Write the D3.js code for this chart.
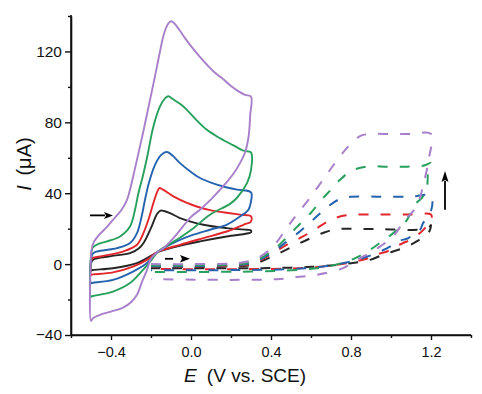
<!DOCTYPE html>
<html>
<head>
<meta charset="utf-8">
<script src="https://cdn.jsdelivr.net/npm/d3@7/dist/d3.min.js"></script>
<style>
  html, body { margin: 0; padding: 0; background: #fff; }
  svg { display: block; }
  text { font-family: "Liberation Sans", Arial, sans-serif; fill: #111; }
</style>
</head>
<body>
<svg id="chart" width="482" height="394"></svg>
<script>
// ---------- data (E in V vs. SCE, I in µA) ----------
const seriesNames = ["black", "red", "blue", "green", "purple"];
const seriesColors = ["#262626", "#e2272c", "#2563ae", "#27a05c", "#a87fca"];

// solid CVs (-0.5 .. 0.3 V), closed loops
const solidBlack = [[-0.5,0.5],[-0.49,2.5],[-0.4,4.5],[-0.305,6.2],[-0.26,9],[-0.238,11.8],[-0.197,21.2],[-0.172,27.9],[-0.155,30.1],[-0.135,30],[-0.105,28.8],[-0.055,26],[0.062,22.2],[0.178,20.3],[0.279,19.4],[0.3,19],
  [0.3,18],[0.287,17.4],[0.178,15.6],[0.045,12.8],[-0.072,9.9],[-0.165,6.8],[-0.22,3.4],[-0.27,0.6],[-0.39,-2.3],[-0.49,-3.3],[-0.5,-3.6],[-0.5,0.5]];
const solidRed = [[-0.5,2],[-0.49,3.5],[-0.455,4.3],[-0.34,7.1],[-0.27,10.9],[-0.238,17.5],[-0.213,25],[-0.188,34.5],[-0.17,40.5],[-0.158,42.9],[-0.14,42],[-0.088,38.2],[-0.02,34.5],[0.028,32.5],[0.095,30.5],[0.178,29],[0.245,27.9],[0.3,27],
  [0.3,24.1],[0.262,22.2],[0.178,18.4],[0.062,14.7],[-0.055,10.9],[-0.165,7],[-0.22,2.4],[-0.29,-1.4],[-0.39,-4.7],[-0.49,-5.8],[-0.5,-6],[-0.5,2]];
const solidBlue = [[-0.5,3],[-0.49,6],[-0.47,7.1],[-0.37,9],[-0.305,11.9],[-0.27,17.5],[-0.247,26.9],[-0.23,36.3],[-0.21,46],[-0.18,56],[-0.15,61.5],[-0.12,63.3],[-0.09,61],[-0.055,57],[0.0,52],[0.045,48.6],[0.1,46],[0.162,43.8],[0.23,42],[0.3,40.5],
  [0.3,35.4],[0.287,30.7],[0.245,26.9],[0.178,22.2],[0.095,19.4],[0.012,16.6],[-0.072,12.8],[-0.165,7],[-0.22,0.6],[-0.29,-4.2],[-0.39,-8.9],[-0.49,-10.5],[-0.5,-10.7],[-0.5,3]];
const solidGreen = [[-0.5,5],[-0.49,9.5],[-0.46,11.5],[-0.42,12.8],[-0.355,15.6],[-0.305,21.2],[-0.28,30.7],[-0.263,40],[-0.24,50],[-0.22,60],[-0.188,77.7],[-0.155,89],[-0.13,93.5],[-0.113,94.7],[-0.09,93],[-0.05,90],[-0.022,87.2],[0.03,81],[0.078,75.9],[0.13,72],[0.212,67],[0.262,64],[0.3,63],
  [0.3,53],[0.28,45.7],[0.229,37.3],[0.195,34],[0.095,27.9],[0.012,20.3],[-0.072,13.7],[-0.165,7],[-0.197,2.4],[-0.24,-3.2],[-0.305,-10.7],[-0.39,-15.5],[-0.49,-18],[-0.5,-18.3],[-0.5,5]];
const solidPurple = [[-0.5,6],[-0.488,11.9],[-0.455,17],[-0.42,21],[-0.39,25],[-0.347,30.7],[-0.32,36.3],[-0.305,42],[-0.28,54],[-0.24,74],[-0.21,90],[-0.18,106],[-0.155,120],[-0.135,130],[-0.115,135.5],[-0.1,137],[-0.085,136],[-0.06,132.5],[-0.03,127.5],[0.0,123],[0.04,117.5],[0.08,112.5],[0.12,108],[0.16,104.5],[0.2,100.5],[0.24,97.3],[0.27,95.5],[0.3,94.5],
  [0.296,84],[0.288,72],[0.27,63],[0.24,56],[0.212,51],[0.16,43.8],[0.1,36.5],[0.045,30.7],[0.003,26.9],[-0.088,14.7],[-0.138,9],[-0.165,7],[-0.2,3],[-0.22,-3.2],[-0.245,-10],[-0.27,-17.3],[-0.3,-21.5],[-0.34,-24.5],[-0.4,-26.8],[-0.455,-28.6],[-0.49,-30.5],[-0.5,-32],[-0.5,6]];

// dashed CVs (-0.2 .. 1.2 V)
const dashBlack = [[-0.2,-1.6],[0.0,-1.5],[0.2,-1.2],[0.3,-0.5],[0.41,4.5],[0.51,10],[0.6,14.7],[0.67,18],[0.73,19.8],[0.8,19.9],[0.9,19.8],[1.0,19.6],[1.13,19.4],[1.19,21],[1.2,22],
  [1.187,17.5],[1.128,12.8],[1.08,9.9],[1.01,7.1],[0.96,5.3],[0.895,2.4],[0.8,0.5],[0.65,-1.2],[0.5,-2],[0.3,-2.3],[-0.2,-2.3]];
const dashRed = [[-0.2,-1.4],[0.0,-1.3],[0.2,-1],[0.3,0],[0.4,5.5],[0.48,11],[0.56,15.6],[0.63,20.3],[0.7,25],[0.76,27.3],[0.82,27.9],[0.95,28],[1.1,28],[1.2,28],
  [1.2,24],[1.17,20.3],[1.145,17.5],[1.095,13.7],[1.06,11.9],[1.01,9],[0.98,7.1],[0.92,5.3],[0.887,3.4],[0.8,1],[0.65,-1.5],[0.5,-2.5],[0.3,-2.8],[-0.2,-2.8]];
const dashBlue = [[-0.2,-1.2],[0.0,-1.1],[0.2,-0.6],[0.3,0.5],[0.4,6],[0.47,12],[0.55,19],[0.62,26],[0.68,32],[0.74,36.5],[0.8,38],[0.95,38],[1.1,38],[1.2,38.6],
  [1.2,30],[1.16,23],[1.145,19.4],[1.11,17.5],[1.087,14.7],[1.03,12.8],[0.995,9.9],[0.9,5],[0.8,1.5],[0.65,-1.5],[0.5,-2.8],[0.3,-3.3],[-0.2,-3.5]];
const dashGreen = [[-0.2,-0.8],[0.0,-0.7],[0.2,-0.2],[0.3,1],[0.4,7],[0.47,14],[0.53,21],[0.6,29],[0.65,36],[0.7,42],[0.74,47],[0.8,52.5],[0.88,55],[0.98,55],[1.08,55],[1.16,55.5],[1.2,57],
  [1.187,54],[1.18,43.8],[1.16,38.2],[1.12,33.5],[1.08,25],[1.05,21.2],[0.99,15.6],[0.955,12.8],[0.895,8],[0.855,5.3],[0.78,1.5],[0.65,-2],[0.5,-3.5],[0.3,-4.2],[-0.2,-4.5]];
const dashPurple = [[-0.2,0],[0.0,0],[0.2,0.3],[0.25,0.8],[0.32,2.8],[0.403,9],[0.478,20.3],[0.528,27.9],[0.587,36.3],[0.66,47.6],[0.745,60.8],[0.8,68],[0.85,72.5],[0.9,73.4],[1.0,73.4],[1.1,73.4],[1.2,73.4],
  [1.19,60],[1.16,44],[1.128,32.5],[1.07,25],[1.01,15.6],[0.945,9.9],[0.895,6.2],[0.845,3.4],[0.76,-2.3],[0.63,-6],[0.53,-7.3],[0.43,-8.5],[0.2,-8.9],[-0.2,-8.5]];

const solidSeries = [solidBlack, solidRed, solidBlue, solidGreen, solidPurple];
const dashSeries = [dashBlack, dashRed, dashBlue, dashGreen, dashPurple];

// axes
const xDomain = [-0.6, 1.4];
const yDomain = [-40, 140];
const xMajorTicks = [-0.4, 0.0, 0.4, 0.8, 1.2];
const xMinorTicks = [-0.6, -0.2, 0.2, 0.6, 1.0, 1.4];
const yMajorTicks = [-40, 0, 40, 80, 120];
const yMinorTicks = [-20, 20, 60, 100, 140];

// annotation arrows (data coords)
const scanArrowSolid = [[-0.505, 27.5], [-0.39, 27.5]];
const scanArrowDashed = [[-0.13, 3], [-0.005, 3]];
const trendArrow = [[1.27, 30.7], [1.27, 52.5]];

// ---------- drawing ----------
const svg = d3.select("#chart");
const x = d3.scaleLinear().domain(xDomain).range([71, 471]);
const y = d3.scaleLinear().domain(yDomain).range([335, 16]);

const line = d3.line().x(d => x(d[0])).y(d => y(d[1])).curve(d3.curveCatmullRom.alpha(0.5));

const order = [0, 1, 2, 3, 4];
order.forEach(i => {
  svg.append("path").datum(dashSeries[i]).attr("d", line)
    .attr("fill", "none").attr("stroke", seriesColors[i]).attr("stroke-width", 2)
    .attr("stroke-dasharray", "10,12");
});
order.forEach(i => {
  svg.append("path").datum(solidSeries[i]).attr("d", line)
    .attr("fill", "none").attr("stroke", seriesColors[i]).attr("stroke-width", 1.9)
    .attr("stroke-linejoin", "round");
});

// axes
const fmtX = d3.format(".1f");
const fmtY = d3.format("d");
const xAxis = svg.append("g").attr("transform", "translate(0,335)")
  .call(d3.axisBottom(x).tickValues(xMajorTicks).tickFormat(fmtX).tickSize(5).tickPadding(7).tickSizeOuter(0));
const xMinor = svg.append("g").attr("transform", "translate(0,335)")
  .call(d3.axisBottom(x).tickValues(xMinorTicks).tickFormat("").tickSize(3).tickSizeOuter(0));
const yAxis = svg.append("g").attr("transform", "translate(71,0)")
  .call(d3.axisLeft(y).tickValues(yMajorTicks).tickFormat(fmtY).tickSize(6).tickPadding(3).tickSizeOuter(0));
const yMinor = svg.append("g").attr("transform", "translate(71,0)")
  .call(d3.axisLeft(y).tickValues(yMinorTicks).tickFormat("").tickSize(3).tickSizeOuter(0));

[xAxis, xMinor, yAxis, yMinor].forEach(g => {
  g.selectAll("path.domain").attr("stroke", "#111").attr("stroke-width", 1.6);
  g.selectAll(".tick line").attr("stroke", "#111").attr("stroke-width", 1.4);
  g.selectAll("text").attr("font-family", "Liberation Sans, Arial, sans-serif").attr("fill", "#111");
});
xAxis.selectAll("text").attr("font-size", 14.5);
yAxis.selectAll("text").attr("font-size", 15.5);
xMinor.select("path.domain").attr("d", `M${x(xDomain[0])},0H${x(xDomain[1])}`);
yMinor.select("path.domain").attr("d", `M0,${y(yDomain[0])}V${y(yDomain[1]) - 1}`);

// axis titles
const xt = svg.append("text").attr("x", 245).attr("y", 382).attr("text-anchor", "middle").attr("font-size", 19);
xt.append("tspan").attr("font-style", "italic").text("E");
xt.append("tspan").attr("dx", 5).text(" (V vs. SCE)");

const yt = svg.append("text").attr("transform", "translate(31,164) rotate(-90)").attr("text-anchor", "middle").attr("font-size", 20);
yt.append("tspan").attr("font-style", "italic").text("I");
yt.append("tspan").attr("dx", 4).text(" (μA)");

// arrows
function arrow(pts, dashed, headLen, halfW) {
  const [p0, p1] = pts.map(p => [x(p[0]), y(p[1])]);
  const dx = p1[0] - p0[0], dy = p1[1] - p0[1];
  const L = Math.hypot(dx, dy), ux = dx / L, uy = dy / L;
  const bx = p1[0] - ux * headLen, by = p1[1] - uy * headLen;
  svg.append("line").attr("x1", p0[0]).attr("y1", p0[1]).attr("x2", bx + ux).attr("y2", by + uy)
    .attr("stroke", "#000").attr("stroke-width", 1.8)
    .attr("stroke-dasharray", dashed ? "8,8" : null);
  svg.append("path")
    .attr("d", `M${p1[0]},${p1[1]}L${bx - uy * halfW},${by + ux * halfW}L${bx + ux * 2},${by + uy * 2}L${bx + uy * halfW},${by - ux * halfW}Z`)
    .attr("fill", "#000");
}
arrow(scanArrowSolid, false, 9, 3.5);
arrow(scanArrowDashed, true, 10, 3.8);
arrow(trendArrow, false, 11, 3.5);
</script>
</body>
</html>
